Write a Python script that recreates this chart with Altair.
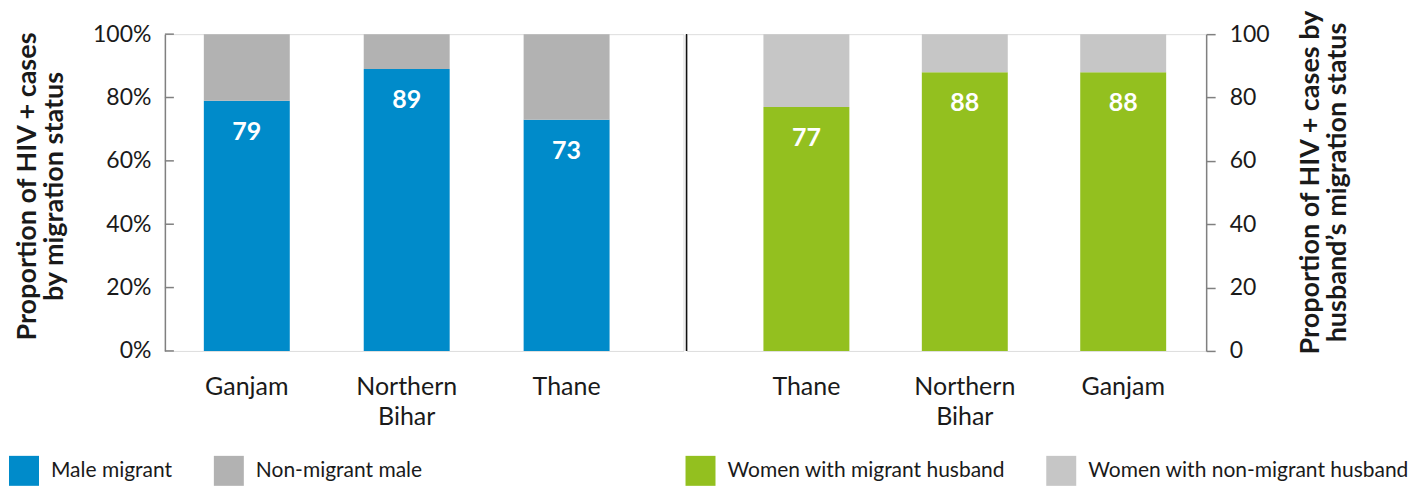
import altair as alt
import pandas as pd

# ---- data ----
left_regions = ["Ganjam", "Northern Bihar", "Thane"]
left_migrant = [79, 89, 73]
left_nonmigrant = [21, 11, 27]

right_regions = ["Thane", "Northern Bihar", "Ganjam"]
right_migrant = [77, 88, 88]
right_nonmigrant = [23, 12, 12]

left_series = ["Male migrant", "Non-migrant male"]
right_series = ["Women with migrant husband", "Women with non-migrant husband"]
left_colors = ["#008bca", "#b2b2b2"]
right_colors = ["#93c01f", "#c6c6c6"]

tick_values = [0, 20, 40, 60, 80, 100]

FONT = "Lato"
TXT = "#1a1a1a"
AX = "#808080"
H = 317


def build(regions, mig, non, series):
    rows = []
    for r, m, n in zip(regions, mig, non):
        rows.append({"region": r, "series": series[0], "value": m, "ord": 0})
        rows.append({"region": r, "series": series[1], "value": n, "ord": 1})
    return pd.DataFrame(rows)


df_left = build(left_regions, left_migrant, left_nonmigrant, left_series)
df_right = build(right_regions, right_migrant, right_nonmigrant, right_series)
lab_left = pd.DataFrame({"region": left_regions, "value": left_migrant})
lab_right = pd.DataFrame({"region": right_regions, "value": right_migrant})
ticks_df = pd.DataFrame({"value": tick_values})

xaxis = alt.Axis(domain=False, ticks=False, labelAngle=0,
                 labelExpr="split(datum.label, ' ')", labelFontSize=25,
                 labelPadding=24, labelLineHeight=30, labelColor=TXT,
                 labelFont=FONT, title=None)


def legend(x):
    return alt.Legend(orient="none", legendX=x, legendY=422, direction="horizontal",
                      title=None, symbolType="square", symbolSize=900,
                      symbolStrokeWidth=0, symbolOpacity=1, labelFontSize=21,
                      labelFont=FONT, labelColor=TXT, labelOffset=12,
                      columnPadding=41, labelLimit=500, padding=0)


# ---------- left panel ----------
lx = alt.X("region:N", sort=left_regions,
           scale=alt.Scale(paddingInner=0.4625, paddingOuter=0.353, align=0.345),
           axis=xaxis)
ly_scale = alt.Scale(domain=[0, 100], nice=False)

left_bars = alt.Chart(df_left).mark_bar().encode(
    x=lx,
    y=alt.Y("value:Q", stack="zero", scale=ly_scale,
            axis=alt.Axis(values=tick_values, labelExpr="datum.value + '%'",
                          ticks=False, domainColor=AX, domainWidth=1.5,
                          labelFontSize=23, labelFont=FONT, labelColor=TXT,
                          labelPadding=14, grid=False,
                          title=["Proportion of HIV + cases", "by migration status"],
                          titleFont=FONT, titleFontSize=27, titleFontWeight="bold",
                          titleColor=TXT, titleLineHeight=27, titlePadding=24,
                          titleY=152)),
    color=alt.Color("series:N", scale=alt.Scale(domain=left_series, range=left_colors),
                    legend=legend(-156)),
    order=alt.Order("ord:Q"),
)
left_text = alt.Chart(lab_left).mark_text(
    dy=31, color="white", fontSize=25, fontWeight="bold", font=FONT
).encode(x=lx, y=alt.Y("value:Q", scale=ly_scale), text="value:Q")
left_ticks = alt.Chart(ticks_df).mark_rule(color=AX, strokeWidth=1.5).encode(
    y=alt.Y("value:Q", scale=ly_scale), x=alt.value(0), x2=alt.value(9))

left = alt.layer(left_bars, left_text, left_ticks).properties(width=519, height=H)

# ---------- right panel ----------
rx = alt.X("region:N", sort=right_regions,
           scale=alt.Scale(paddingInner=0.4574, paddingOuter=0.369, align=0.658),
           axis=xaxis)
ry_scale = alt.Scale(domain=[0, 100], nice=False)

right_bars = alt.Chart(df_right).mark_bar().encode(
    x=rx,
    y=alt.Y("value:Q", stack="zero", scale=ry_scale,
            axis=alt.Axis(orient="right", values=tick_values, ticks=True, tickSize=9,
                          tickColor=AX, tickWidth=1.5, domainColor=AX, domainWidth=1.5,
                          labelFontSize=23, labelFont=FONT, labelColor=TXT,
                          labelPadding=14, grid=False,
                          title=["Proportion of HIV + cases by", "husband\u2019s migration status"],
                          titleAngle=270, titleFont=FONT, titleFontSize=27,
                          titleFontWeight="bold", titleColor=TXT, titleLineHeight=27,
                          titlePadding=28, titleY=148)),
    color=alt.Color("series:N", scale=alt.Scale(domain=right_series, range=right_colors),
                    legend=legend(-1)),
    order=alt.Order("ord:Q"),
)
right_text = alt.Chart(lab_right).mark_text(
    dy=31, color="white", fontSize=25, fontWeight="bold", font=FONT
).encode(x=rx, y=alt.Y("value:Q", scale=ry_scale), text="value:Q")
divider = alt.Chart(lab_right).mark_rule(color="#111111", strokeWidth=1.2).encode(
    x=alt.value(0), y=alt.value(0), y2=alt.value(H))

right = alt.layer(right_bars, right_text, divider).properties(width=520, height=H)

chart = alt.hconcat(left, right, spacing=0).resolve_scale(
    color="independent", x="independent", y="independent"
).configure_view(stroke=None).configure(padding={"left": 0, "top": 0, "right": 0, "bottom": 0})

chart.save("out.html", embed_options={"renderer": "svg", "actions": False})
